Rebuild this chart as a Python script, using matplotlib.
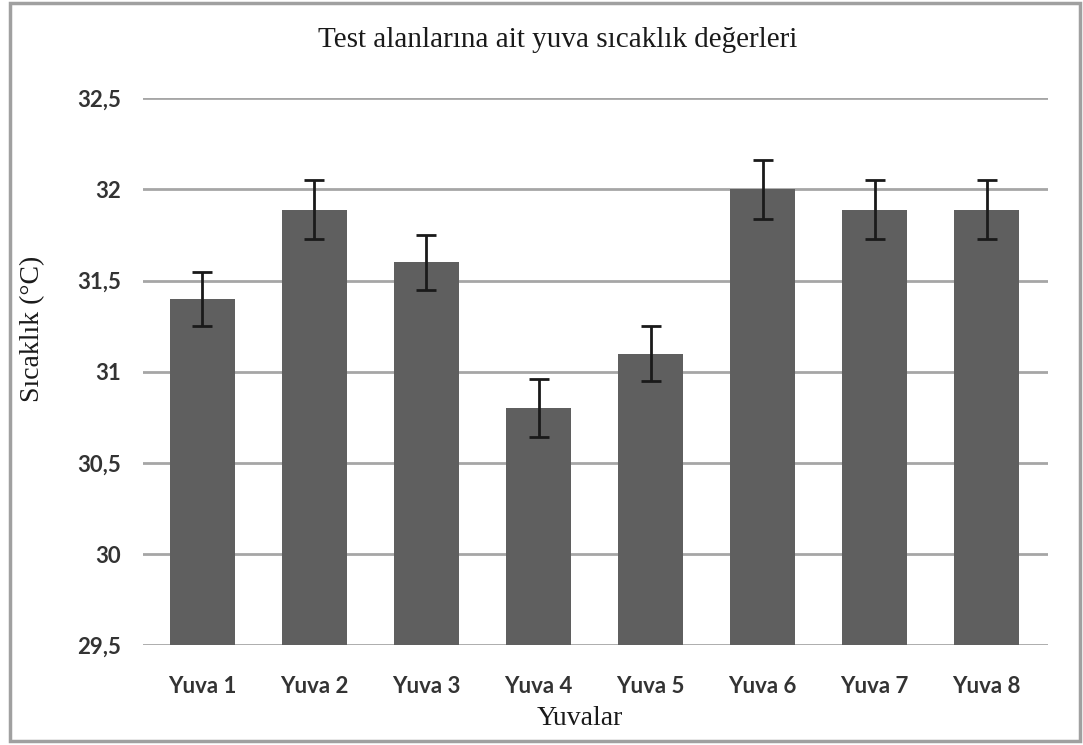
import numpy as np
import matplotlib.pyplot as plt
from matplotlib.patches import Rectangle
from matplotlib.ticker import FuncFormatter

categories = ['Yuva 1', 'Yuva 2', 'Yuva 3', 'Yuva 4', 'Yuva 5', 'Yuva 6', 'Yuva 7', 'Yuva 8']
temps = [31.4, 31.89, 31.6, 30.8, 31.1, 32.0, 31.89, 31.89]
errors = [0.15, 0.16, 0.15, 0.16, 0.15, 0.16, 0.16, 0.16]

fig = plt.figure(figsize=(10.83, 7.45), dpi=100)
ax = fig.add_axes([0.132, 0.134, 0.836, 0.734])

x = np.arange(len(categories))
ax.bar(x, temps, width=0.58, color='#5f5f5f', zorder=3)
ax.errorbar(x, temps, yerr=errors, fmt='none', ecolor='#1a1a1a',
            elinewidth=2, capsize=7, capthick=2, zorder=4)

ax.set_ylim(29.5, 32.5)
ax.set_xlim(-0.53, 7.55)
ax.set_yticks(np.arange(29.5, 32.51, 0.5))
ax.yaxis.set_major_formatter(FuncFormatter(lambda v, p: ('%g' % v).replace('.', ',')))
ax.set_xticks(x)
ax.set_xticklabels(categories)
ax.grid(axis='y', color='#a6a6a6', linewidth=2, zorder=0)
for s in ax.spines.values():
    s.set_visible(False)
ax.tick_params(length=0, labelsize=16)
for lab in ax.get_xticklabels() + ax.get_yticklabels():
    lab.set_family('Lato')
    lab.set_weight('bold')
    lab.set_color('#333333')
ax.tick_params(axis='x', pad=22)
ax.tick_params(axis='y', pad=16)

# titles placed like the Excel chart (centred on the chart area, not the plot)
fig.text(0.515, 0.946, 'Test alanlarına ait yuva sıcaklık değerleri', family='Liberation Serif',
         fontsize=21, ha='center', va='center', color='#1a1a1a')
fig.text(0.535, 0.036, 'Yuvalar', family='Liberation Serif', fontsize=20,
         ha='center', va='center', color='#1a1a1a')
fig.text(0.030, 0.558, 'Sıcaklık (°C)', family='Liberation Serif', fontsize=20,
         ha='center', va='center', rotation=90, color='#1a1a1a')

fig.patches.append(Rectangle((0.009, 0.006), 0.988, 0.99, transform=fig.transFigure,
                             fill=False, edgecolor='#a0a0a0', linewidth=2.5))

fig.savefig('out.png', dpi=100)
